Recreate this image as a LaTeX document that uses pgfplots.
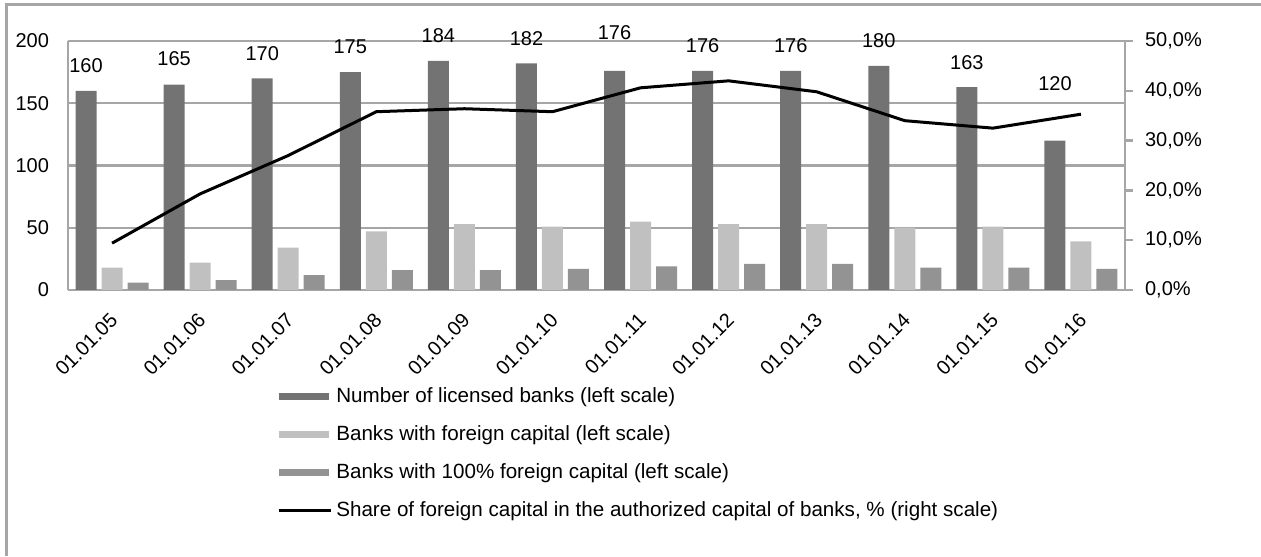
\documentclass[border=0pt]{standalone}
\usepackage{fontspec}
\setmainfont{Liberation Sans}
\usepackage{pgfplots}
\usepackage{pgfplotstable}
\pgfplotsset{compat=1.18}
\definecolor{darkbar}{HTML}{737373}
\definecolor{lightbar}{HTML}{C0C0C0}
\definecolor{midbar}{HTML}{939393}
\definecolor{gridc}{HTML}{A6A6A6}

\pgfplotstableread{
x lic foreign full share lab off
0 160 18 6 9.4 160 12.8
1 165 22 8 19.3 165 13.2
2 170 34 12 27.0 170 12.6
3 175 47 16 35.8 175 12.5
4 184 53 16 36.4 184 12.8
5 182 51 17 35.8 182 12.6
6 176 55 19 40.6 176 19.3
7 176 53 21 42.0 176 12.8
8 176 53 21 39.8 176 12.8
9 180 50 18 34.0 180 12.8
10 163 51 18 32.5 163 12.4
11 120 39 17 35.3 120 28.7
}\data

\begin{document}
\begin{tikzpicture}[x=1pt,y=1pt]
\useasboundingbox (0,0) rectangle (630.5,278);
\draw[gridc, line width=1.5pt] (3,0) -- (3,275.5) -- (630.5,275.5);
\begin{axis}[
  at={(34pt,133pt)}, anchor=south west,
  scale only axis, width=528.5pt, height=124.5pt,
  xmin=-0.5, xmax=11.5, ymin=0, ymax=200,
  ytick={0,50,100,150,200},
  xtick={0,...,11},
  xticklabels={01.01.05,01.01.06,01.01.07,01.01.08,01.01.09,01.01.10,01.01.11,01.01.12,01.01.13,01.01.14,01.01.15,01.01.16},
  xticklabel style={xshift=3.4pt, yshift=-11pt, rotate=45, anchor=east},
  yticklabel style={xshift=-6pt},
  /pgf/number format/assume math mode=true,
  axis x line*=bottom, axis y line*=left,
  axis line style={-, draw=gridc, line width=1.2pt},
  ymajorgrids, grid style={gridc, line width=1.2pt},
  major tick length=0pt, tick style={draw=none},
  ybar=2.5pt, bar width=10.5pt,
  clip=false,
  legend style={at={(0.192,-0.357)}, anchor=north west, draw=none, fill=none, row sep=6pt,
    font=\fontsize{10.3}{12.4}\selectfont},
  legend cell align=left,
]
\addplot[fill=darkbar, draw=none,
  nodes near coords, point meta=explicit symbolic,
  visualization depends on={\thisrow{off} \as \labeloff},
  every node near coord/.append style={anchor=center, yshift=\labeloff pt, black},
  legend image code/.code={\fill[darkbar] (0pt,-1.75pt) rectangle (25pt,1.75pt);}]
  table[x=x, y=lic, meta=lab] {\data};
\addlegendentry{Number of licensed banks (left scale)}
\addplot[fill=lightbar, draw=none,
  legend image code/.code={\fill[lightbar] (0pt,-1.75pt) rectangle (25pt,1.75pt);}]
  table[x=x, y=foreign] {\data};
\addlegendentry{Banks with foreign capital (left scale)}
\addplot[fill=midbar, draw=none,
  legend image code/.code={\fill[midbar] (0pt,-1.75pt) rectangle (25pt,1.75pt);}]
  table[x=x, y=full] {\data};
\addlegendentry{Banks with 100\% foreign capital (left scale)}
\addlegendimage{legend image code/.code={\draw[black, line width=1.5pt] (0pt,0pt) -- (26pt,0pt);}}
\addlegendentry{Share of foreign capital in the authorized capital of banks, \% (right scale)}
\end{axis}
\begin{axis}[
  at={(34pt,133pt)}, anchor=south west,
  scale only axis, width=528.5pt, height=124.5pt,
  xmin=-0.5, xmax=11.5, ymin=0, ymax=50,
  axis x line=none, axis y line*=right,
  axis line style={-, draw=gridc, line width=1.2pt},
  xtick=\empty,
  ytick={0,10,20,30,40,50},
  yticklabels={{0,0\%},{10,0\%},{20,0\%},{30,0\%},{40,0\%},{50,0\%}},
  yticklabel style={xshift=2.5pt},
  tick align=outside, major tick length=4pt,
  tick style={gridc, line width=1.2pt},
]
\addplot[black, line width=1.5pt, mark=none] table[x=x, y=share] {\data};
\end{axis}
\end{tikzpicture}
\end{document}
